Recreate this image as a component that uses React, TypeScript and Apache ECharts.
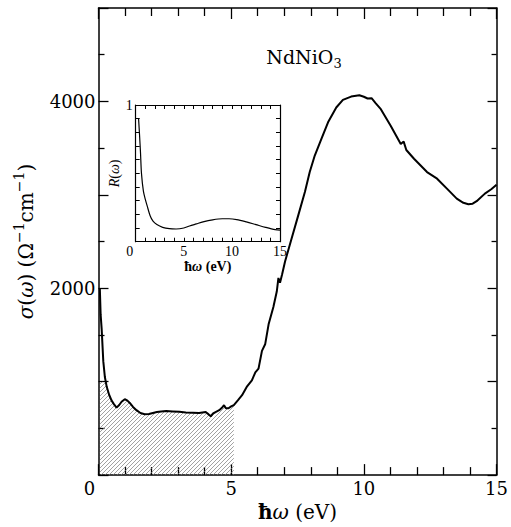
import React, { useEffect, useRef } from 'react';
import * as echarts from 'echarts';

// Main spectrum: optical conductivity sigma(omega) vs photon energy (eV)
const mainEV = [
  0.05, 0.08, 0.12, 0.18, 0.24, 0.31, 0.40, 0.49, 0.58, 0.68, 0.78, 0.87, 0.99, 1.08, 1.18, 1.30,
  1.43, 1.58, 1.74, 1.90, 2.05, 2.20, 2.36, 2.55, 2.80, 3.05, 3.29, 3.55, 3.79, 4.04, 4.15, 4.23,
  4.32, 4.41, 4.55, 4.65, 4.73, 4.80, 4.90, 5.00, 5.10, 5.25, 5.41, 5.60, 5.78, 5.91, 6.03, 6.16,
  6.28, 6.41, 6.59, 6.72, 6.78, 6.84, 6.92, 7.03, 7.28, 7.53, 7.78, 7.96, 8.15, 8.40, 8.65, 8.96,
  9.21, 9.52, 9.83, 10.00, 10.14, 10.29, 10.45, 10.64, 11.01, 11.39, 11.50, 11.60, 11.89, 12.38,
  12.76, 13.13, 13.50, 13.75, 13.94, 14.10, 14.25, 14.56, 14.80, 15.00,
];
const mainSigma = [
  2000, 1720, 1560, 1220, 1050, 945, 860, 800, 760, 722, 750, 785, 812, 800, 772, 730,
  695, 665, 652, 655, 665, 675, 682, 685, 682, 678, 670, 668, 665, 675, 650, 630,
  660, 675, 695, 720, 748, 715, 715, 735, 750, 800, 855, 950, 1015, 1100, 1140, 1330,
  1400, 1614, 1800, 1968, 2110, 2060, 2150, 2287, 2535, 2783, 3032, 3244, 3421, 3598, 3776, 3935,
  4016, 4052, 4066, 4050, 4031, 4035, 3980, 3917, 3740, 3545, 3570, 3480, 3386, 3244,
  3173, 3067, 2960, 2915, 2900, 2905, 2932, 3013, 3060, 3109,
];

// Hatched spectral-weight region
const hatchEndEV = 5.1;
const hatchCapSigma = 1000;

// Inset: reflectivity R(omega)
const insetEV = [
  0.3, 0.4, 0.5, 0.6, 0.8, 1.0, 1.2, 1.5, 1.8, 2.2, 2.8, 3.5, 4.2, 5.0, 5.6, 6.3, 7.0, 8.0,
  9.0, 9.7, 10.5, 11.5, 12.5, 13.5, 14.5, 15.0,
];
const insetR = [
  0.90, 0.78, 0.65, 0.50, 0.37, 0.31, 0.26, 0.19, 0.15, 0.125, 0.105, 0.095, 0.093, 0.10, 0.115,
  0.13, 0.145, 0.16, 0.168, 0.168, 0.162, 0.145, 0.125, 0.105, 0.088, 0.085,
];

const mainXTickLabels = [0, 5, 10, 15];
const mainYTickLabels = [2000, 4000];
const insetXTickLabels = [0, 5, 10, 15];
const insetYTickLabels = [1];

const SERIF = 'DejaVu Serif';
const SERIF2 = 'Liberation Serif';

function hatchImage(): string {
  const c = document.createElement('canvas');
  c.width = 4;
  c.height = 4;
  const g = c.getContext('2d')!;
  g.strokeStyle = '#7a7a7a';
  g.lineWidth = 0.7;
  g.beginPath();
  g.moveTo(0, 4); g.lineTo(4, 0);
  g.moveTo(-1, 1); g.lineTo(1, -1);
  g.moveTo(3, 5); g.lineTo(5, 3);
  g.stroke();
  return c.toDataURL();
}

function frameAxis(o: any) {
  const tickLen = o.tickLen ?? 10;
  const minorLen = o.minorLen ?? 7;
  const lw = o.lw ?? 1.5;
  return {
    type: 'value',
    gridIndex: o.gridIndex,
    position: o.position,
    min: o.min,
    max: o.max,
    interval: o.interval,
    axisLine: { show: true, onZero: false, lineStyle: { color: '#000', width: lw } },
    axisTick: { show: true, inside: true, length: tickLen, lineStyle: { color: '#000', width: lw * 0.85 } },
    minorTick: {
      show: o.minorSplit != null,
      splitNumber: o.minorSplit ?? 5,
      length: minorLen,
      lineStyle: { color: '#000', width: lw * 0.85 },
    },
    splitLine: { show: false },
    minorSplitLine: { show: false },
    axisLabel: o.label ?? { show: false },
    name: o.name,
    nameLocation: 'middle',
    nameGap: o.nameGap,
    nameRotate: o.nameRotate,
    nameTextStyle: o.nameTextStyle,
  };
}

export default function App() {
  const ref = useRef<HTMLDivElement>(null);

  useEffect(() => {
    const chart = echarts.init(ref.current!, null, { renderer: 'svg' });
    const mainData = mainEV.map((x, i) => [x, mainSigma[i]]);
    const hatchData = mainEV
      .map((x, i) => [x, Math.min(mainSigma[i], hatchCapSigma)])
      .filter((p) => p[0] <= hatchEndEV);
    const insetData = insetEV.map((x, i) => [x, insetR[i]]);

    const mainLabelFont = { fontFamily: SERIF, fontSize: 18, color: '#000' };
    const insetLabelFont = { fontFamily: SERIF2, fontSize: 14, color: '#000' };
    const mt = { fontFamily: SERIF, fontSize: 20, color: '#000' };
    const yt = { fontFamily: SERIF, fontSize: 20, color: '#000' };
    const it = { fontFamily: SERIF2, fontSize: 14, color: '#000', fontWeight: 'bold' };
    const it2 = { fontFamily: SERIF2, fontSize: 14, color: '#000' };

    const option: any = {
      animation: false,
      backgroundColor: '#fff',
      textStyle: { fontFamily: SERIF },
      grid: [
        { left: 98.5, top: 8, width: 401.5, height: 470.5 },
        { left: 135.7, top: 105, width: 144.3, height: 136.7 },
      ],
      xAxis: [
        frameAxis({
          gridIndex: 0, position: 'bottom', min: 0, max: 15, interval: 5, minorSplit: 5,
          tickLen: 11, minorLen: 8,
          label: {
            show: true, margin: 4, ...mainLabelFont,
            formatter: (v: number) =>
              mainXTickLabels.includes(v) ? (v === 0 ? '{z|0}' : '{n|' + v + '}') : '',
            rich: { z: { ...mainLabelFont, padding: [0, 18, 0, 0] }, n: { ...mainLabelFont } },
          },
          name: '{h|ħ}{w|ω}{t| (eV)}',
          nameGap: 14,
          nameTextStyle: {
            ...mt,
            rich: {
              h: { ...mt, fontWeight: 'bold' },
              w: { ...mt, fontStyle: 'italic' },
              t: { ...mt },
            },
          },
        }),
        frameAxis({
          gridIndex: 0, position: 'top', min: 0, max: 15, interval: 5, minorSplit: 5,
          tickLen: 11, minorLen: 8,
        }),
        frameAxis({
          gridIndex: 1, position: 'bottom', min: 0, max: 15, interval: 1,
          tickLen: 4, lw: 1.2,
          label: {
            show: true, margin: 3, ...insetLabelFont,
            formatter: (v: number) =>
              insetXTickLabels.includes(v) ? (v === 0 ? '{z|0}' : '{n|' + v + '}') : '',
            rich: { z: { ...insetLabelFont, padding: [0, 12, 0, 0] }, n: { ...insetLabelFont } },
          },
          name: '{h|ħ}{w|ω}{t| (eV)}',
          nameGap: 13,
          nameTextStyle: {
            ...it,
            rich: {
              h: { ...it },
              w: { ...it, fontStyle: 'italic' },
              t: { ...it },
            },
          },
        }),
        frameAxis({
          gridIndex: 1, position: 'top', min: 0, max: 15, interval: 1, tickLen: 4, lw: 1.2,
        }),
      ],
      yAxis: [
        frameAxis({
          gridIndex: 0, position: 'left', min: 0, max: 5000, interval: 1000, minorSplit: 2,
          tickLen: 10, minorLen: 6,
          label: {
            show: true, margin: 3, ...mainLabelFont,
            formatter: (v: number) => (mainYTickLabels.includes(v) ? String(v) : ''),
          },
          name: '{g|σ}{t|(}{g|ω}{t|) (Ω}{p|−1}{t|cm}{p|−1}{t|)}',
          nameGap: 59,
          nameRotate: 90,
          nameTextStyle: {
            ...yt,
            rich: {
              g: { ...yt, fontStyle: 'italic' },
              t: { ...yt },
              p: { ...yt, fontSize: 14, padding: [0, 0, 14, 0] },
            },
          },
        }),
        frameAxis({
          gridIndex: 0, position: 'right', min: 0, max: 5000, interval: 1000, minorSplit: 2,
          tickLen: 9, minorLen: 5,
        }),
        frameAxis({
          gridIndex: 1, position: 'left', min: 0, max: 1, interval: 0.1, tickLen: 4, lw: 1.2,
          label: {
            show: true, margin: 3, ...insetLabelFont,
            formatter: (v: number) => (insetYTickLabels.includes(v) ? String(v) : ''),
          },
          name: '{r|R}{t|(}{w|ω}{t|)}',
          nameGap: 12,
          nameRotate: 90,
          nameTextStyle: {
            ...it2,
            rich: {
              r: { ...it2, fontStyle: 'italic' },
              w: { ...it2, fontStyle: 'italic' },
              t: { ...it2 },
            },
          },
        }),
        frameAxis({
          gridIndex: 1, position: 'right', min: 0, max: 1, interval: 0.1, tickLen: 4, lw: 1.2,
        }),
      ],
      graphic: [
        {
          type: 'text',
          x: 304,
          y: 57,
          style: {
            text: '{m|NdNiO}{s|3}',
            fill: '#000',
            fontFamily: SERIF,
            fontSize: 19,
            align: 'center',
            verticalAlign: 'middle',
            textAlign: 'center',
            textVerticalAlign: 'middle',
            rich: {
              m: { fontFamily: SERIF, fontSize: 19, fill: '#000', color: '#000' },
              s: { fontFamily: SERIF, fontSize: 13, fill: '#000', color: '#000', padding: [12, 0, 0, 0] },
            },
          },
        },
      ],
      series: [
        {
          type: 'line',
          xAxisIndex: 0,
          yAxisIndex: 0,
          data: hatchData,
          showSymbol: false,
          symbol: 'none',
          lineStyle: { width: 0, opacity: 0 },
          areaStyle: {
            color: { image: hatchImage(), repeat: 'repeat', imageWidth: 4, imageHeight: 4 },
            opacity: 1,
          },
          z: 1,
        },
        {
          type: 'line',
          xAxisIndex: 0,
          yAxisIndex: 0,
          data: mainData,
          showSymbol: false,
          symbol: 'none',
          lineStyle: { color: '#000', width: 2 },
          z: 2,
        },
        {
          type: 'line',
          xAxisIndex: 2,
          yAxisIndex: 2,
          data: insetData,
          showSymbol: false,
          symbol: 'none',
          smooth: 0.3,
          lineStyle: { color: '#000', width: 1.2 },
          z: 2,
        },
      ],
    };
    chart.setOption(option);
    return () => chart.dispose();
  }, []);

  return (
    <div
      ref={ref}
      style={{ position: 'absolute', left: 0, top: 0, width: 511, height: 527, background: '#fff' }}
    />
  );
}
